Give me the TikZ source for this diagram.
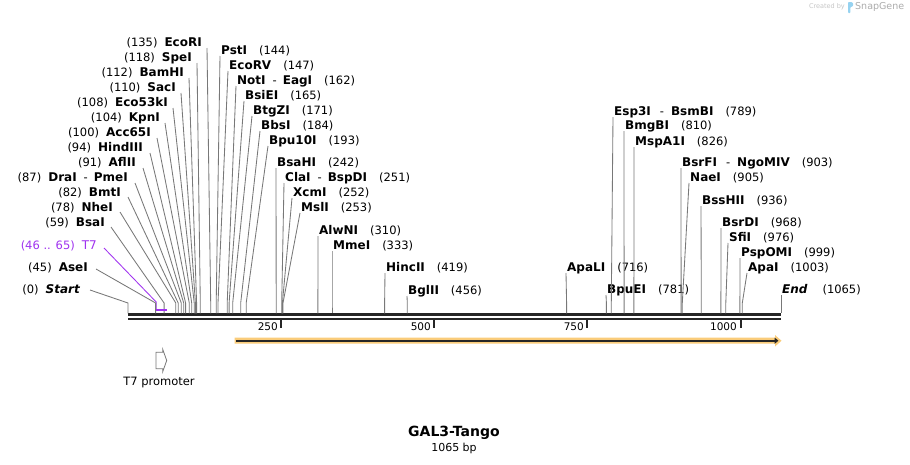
\documentclass[tikz,border=0pt]{standalone}
\usepackage{fontspec}
\setmainfont{DejaVu Sans}
\usepackage{xcolor}
\usepackage{tikz}
\usetikzlibrary{arrows.meta,positioning}

\definecolor{cutgray}{RGB}{120,120,120}
\definecolor{seqdark}{RGB}{38,38,38}
\definecolor{t7purple}{RGB}{160,50,240}
\definecolor{featorange}{RGB}{250,204,122}
\definecolor{snapblue}{RGB}{150,210,240}

\newcommand{\enz}[1]{{\fontsize{12}{14}\selectfont\bfseries #1}}

\begin{document}
\begin{tikzpicture}[
    x=1pt, y=-1pt,
    lbl/.style={inner sep=0pt, text height=9pt, text depth=0pt, font=\fontsize{11.5}{13}\selectfont},
    lsite/.style={lbl, anchor=east},
    rsite/.style={lbl, anchor=west},
    cut/.style={draw=cutgray, line width=0.85pt},
    t7line/.style={draw=t7purple, line width=0.85pt},
    seqline/.style={draw=seqdark, line width=2.4pt},
    tickmark/.style={draw=seqdark, line width=2pt},
    ticklbl/.style={inner sep=0pt, anchor=east, font=\fontsize{10.5}{12}\selectfont},
    promo/.style={draw=cutgray, line width=0.8pt, fill=white}
]

% Canvas
\fill[white] (0,0) rectangle (910,464);
\useasboundingbox (0,0) rectangle (910,464);

% Watermark
\node[anchor=east, inner sep=0pt, text=gray!45, font=\fontsize{6.5}{8}\selectfont] (createdby) at (845,7) {Created by};
\fill[snapblue, rounded corners=0.8pt] (848,2) -- (852,2) -- (853.6,4.5) -- (852,7) -- (850.3,7) -- (850.3,13) -- (848,13) -- cycle;
\node[anchor=west, inner sep=0pt, text=gray!65, font=\fontsize{9.5}{11}\selectfont] (snapgene) at (855,7) {SnapGene};

% Sequence
\coordinate (seqL) at (128,314.6);
\coordinate (seqR) at (781,314.6);
\coordinate (seqLb) at (128,318.9);
\coordinate (seqRb) at (781,318.9);
\draw[seqline] (seqL) -- (seqR);
\draw[seqline] (seqLb) -- (seqRb);

% Ruler
\draw[tickmark] (281.1,320) -- (281.1,327.5);
\draw[tickmark] (434.3,320) -- (434.3,327.5);
\draw[tickmark] (587.4,320) -- (587.4,327.5);
\draw[tickmark] (740.5,320) -- (740.5,327.5);
\node[ticklbl] (t250) at (278,327) {250};
\node[ticklbl] (t500) at (431,327) {500};
\node[ticklbl] (t750) at (584,327) {750};
\node[ticklbl] (t1000) at (737,327) {1000};

% Left side sites
\node[lsite] (ecori)   at (202,42)  {(135)\hspace{7pt}\enz{EcoRI}};
\node[lsite] (spei)    at (192,57)  {(118)\hspace{7pt}\enz{SpeI}};
\node[lsite] (bamhi)   at (184,72)  {(112)\hspace{7pt}\enz{BamHI}};
\node[lsite] (saci)    at (176,87)  {(110)\hspace{7pt}\enz{SacI}};
\node[lsite] (eco53ki) at (168,102) {(108)\hspace{7pt}\enz{Eco53kI}};
\node[lsite] (kpni)    at (160,117) {(104)\hspace{7pt}\enz{KpnI}};
\node[lsite] (acc65i)  at (151,132) {(100)\hspace{7pt}\enz{Acc65I}};
\node[lsite] (hindiii) at (143,147) {(94)\hspace{7pt}\enz{HindIII}};
\node[lsite] (aflii)   at (136,162) {(91)\hspace{7pt}\enz{AflII}};
\node[lsite] (drai)    at (128,177) {(87)\hspace{7pt}\enz{DraI}\hspace{7pt}-\hspace{6pt}\enz{PmeI}};
\node[lsite] (bmti)    at (121,192) {(82)\hspace{7pt}\enz{BmtI}};
\node[lsite] (nhei)    at (113,207) {(78)\hspace{7pt}\enz{NheI}};
\node[lsite] (bsai)    at (105,222) {(59)\hspace{7pt}\enz{BsaI}};
\node[lsite, text=t7purple] (t7) at (97,245) {(46 .. 65)\hspace{7pt}{\fontsize{12}{14}\selectfont T7}};
\node[lsite] (asei)    at (88,267)  {(45)\hspace{7pt}\enz{AseI}};
\node[lsite] (startsite) at (80,289) {(0)\hspace{7pt}\enz{\itshape Start}};

% Right side sites
\node[rsite] (psti)   at (221,50)  {\enz{PstI}\hspace{12pt}(144)};
\node[rsite] (ecorv)  at (229,65)  {\enz{EcoRV}\hspace{12pt}(147)};
\node[rsite] (noti)   at (237,80)  {\enz{NotI}\hspace{7pt}-\hspace{6pt}\enz{EagI}\hspace{12pt}(162)};
\node[rsite] (bsiei)  at (245,95)  {\enz{BsiEI}\hspace{12pt}(165)};
\node[rsite] (btgzi)  at (253,110) {\enz{BtgZI}\hspace{12pt}(171)};
\node[rsite] (bbsi)   at (261,125) {\enz{BbsI}\hspace{12pt}(184)};
\node[rsite] (bpu10i) at (269,140) {\enz{Bpu10I}\hspace{12pt}(193)};
\node[rsite] (bsahi)  at (277,162) {\enz{BsaHI}\hspace{12pt}(242)};
\node[rsite] (clai)   at (285,177) {\enz{ClaI}\hspace{7pt}-\hspace{6pt}\enz{BspDI}\hspace{12pt}(251)};
\node[rsite] (xcmi)   at (293,192) {\enz{XcmI}\hspace{12pt}(252)};
\node[rsite] (msli)   at (301,207) {\enz{MslI}\hspace{12pt}(253)};
\node[rsite] (alwni)  at (319,230) {\enz{AlwNI}\hspace{12pt}(310)};
\node[rsite] (mmei)   at (333,245) {\enz{MmeI}\hspace{12pt}(333)};
\node[rsite] (hincii) at (386,267) {\enz{HincII}\hspace{12pt}(419)};
\node[rsite] (bglii)  at (408,290) {\enz{BglII}\hspace{12pt}(456)};
\node[rsite] (apali)  at (567,267) {\enz{ApaLI}\hspace{12pt}(716)};
\node[rsite] (bpuei)  at (607,289) {\enz{BpuEI}\hspace{12pt}(781)};
\node[rsite] (esp3i)  at (614,111) {\enz{Esp3I}\hspace{9pt}-\hspace{7pt}\enz{BsmBI}\hspace{12pt}(789)};
\node[rsite] (bmgbi)  at (625,125) {\enz{BmgBI}\hspace{12pt}(810)};
\node[rsite] (mspa1i) at (635,141) {\enz{MspA1I}\hspace{12pt}(826)};
\node[rsite] (bsrfi)  at (682,162) {\enz{BsrFI}\hspace{9pt}-\hspace{7pt}\enz{NgoMIV}\hspace{12pt}(903)};
\node[rsite] (naei)   at (690,177) {\enz{NaeI}\hspace{12pt}(905)};
\node[rsite] (bsshii) at (702,200) {\enz{BssHII}\hspace{12pt}(936)};
\node[rsite] (bsrdi)  at (722,222) {\enz{BsrDI}\hspace{12pt}(968)};
\node[rsite] (sfii)   at (729,237) {\enz{SfiI}\hspace{12pt}(976)};
\node[rsite] (pspomi) at (741,252) {\enz{PspOMI}\hspace{12pt}(999)};
\node[rsite] (apai)   at (748,267) {\enz{ApaI}\hspace{12pt}(1003)};
\node[rsite] (endsite) at (782,289) {\enz{\itshape End}\hspace{15pt}(1065)};

% Left connectors
\draw[cut] ([shift={(5,6)}]ecori.east) -- (210.7,303) -- (210.7,313.3);
\draw[cut] ([shift={(5,6)}]spei.east) -- (200.3,303) -- (200.3,313.3);
\draw[cut] ([shift={(5,6)}]bamhi.east) -- (196.6,303) -- (196.6,313.3);
\draw[cut] ([shift={(5,6)}]saci.east) -- (195.4,303) -- (195.4,313.3);
\draw[cut] ([shift={(5,6)}]eco53ki.east) -- (194.2,303) -- (194.2,313.3);
\draw[cut] ([shift={(5,6)}]kpni.east) -- (191.7,303) -- (191.7,313.3);
\draw[cut] ([shift={(6,6)}]acc65i.east) -- (189.3,303) -- (189.3,313.3);
\draw[cut] ([shift={(7,6)}]hindiii.east) -- (185.6,303) -- (185.6,313.3);
\draw[cut] ([shift={(7,6)}]aflii.east) -- (183.7,303) -- (183.7,313.3);
\draw[cut] ([shift={(7,6)}]drai.east) -- (181.3,303) -- (181.3,313.3);
\draw[cut] ([shift={(7,5)}]bmti.east) -- (178.2,303) -- (178.2,313.3);
\draw[cut] ([shift={(7,5)}]nhei.east) -- (175.8,303) -- (175.8,313.3);
\draw[cut] ([shift={(6,5)}]bsai.east) -- (164.1,303) -- (164.1,313.3);
\draw[t7line] ([shift={(7,3)}]t7.east) -- (156.2,302) -- (156.2,310);
\draw[cut] ([shift={(8,2)}]asei.east) -- (155.6,303) -- (155.6,313.3);
\draw[cut] ([shift={(10,1)}]startsite.east) -- (128,303) -- (128,313.3);

% T7 feature
\draw[draw=t7purple, line width=2.2pt] (156.2,310) -- (166.7,310);

% Right connectors
\draw[cut] ([shift={(-1,6)}]psti.west) -- (216.2,303) -- (216.2,313.3);
\draw[cut] ([shift={(-1,6)}]ecorv.west) -- (218,303) -- (218,313.3);
\draw[cut] ([shift={(-1,6)}]noti.west) -- (227.2,303) -- (227.2,313.3);
\draw[cut] ([shift={(-1,6)}]bsiei.west) -- (229.1,303) -- (229.1,313.3);
\draw[cut] ([shift={(-1,6)}]btgzi.west) -- (232.7,303) -- (232.7,313.3);
\draw[cut] ([shift={(-1,6)}]bbsi.west) -- (240.7,303) -- (240.7,313.3);
\draw[cut] ([shift={(-1,6)}]bpu10i.west) -- (246.2,303) -- (246.2,313.3);
\draw[cut] ([shift={(-1,6)}]bsahi.west) -- (276.2,303) -- (276.2,313.3);
\draw[cut] ([shift={(-1,6)}]clai.west) -- (281.7,303) -- (281.7,313.3);
\draw[cut] ([shift={(-1,6)}]xcmi.west) -- (282.4,303) -- (282.4,313.3);
\draw[cut] ([shift={(-1,6)}]msli.west) -- (283,303) -- (283,313.3);
\draw[cut] ([shift={(-1,6)}]alwni.west) -- (317.9,303) -- (317.9,313.3);
\draw[cut] ([shift={(-1,6)}]mmei.west) -- (332,303) -- (332,313.3);
\draw[cut] ([shift={(-1,6)}]hincii.west) -- (384.6,303) -- (384.6,313.3);
\draw[cut] ([shift={(-1,6)}]bglii.west) -- (407.3,303) -- (407.3,313.3);
\draw[cut] ([shift={(-1,6)}]apali.west) -- (566.6,303) -- (566.6,313.3);
\draw[cut] ([shift={(-1,6)}]bpuei.west) -- (606.4,303) -- (606.4,313.3);
\draw[cut] ([shift={(-1,6)}]esp3i.west) -- (611.3,303) -- (611.3,313.3);
\draw[cut] ([shift={(-1,6)}]bmgbi.west) -- (624.1,303) -- (624.1,313.3);
\draw[cut] ([shift={(-1,6)}]mspa1i.west) -- (633.9,303) -- (633.9,313.3);
\draw[cut] ([shift={(-1,6)}]bsrfi.west) -- (681.1,303) -- (681.1,313.3);
\draw[cut] ([shift={(-1,6)}]naei.west) -- (682.3,303) -- (682.3,313.3);
\draw[cut] ([shift={(-1,6)}]bsshii.west) -- (701.3,303) -- (701.3,313.3);
\draw[cut] ([shift={(-1,6)}]bsrdi.west) -- (720.9,303) -- (720.9,313.3);
\draw[cut] ([shift={(-1,6)}]sfii.west) -- (725.8,303) -- (725.8,313.3);
\draw[cut] ([shift={(-1,6)}]pspomi.west) -- (739.9,303) -- (739.9,313.3);
\draw[cut] ([shift={(-1,6)}]apai.west) -- (742.3,303) -- (742.3,313.3);
\draw[cut] ([shift={(-1,6)}]endsite.west) -- (781,303) -- (781,313.3);

% Orange feature arrow
\fill[featorange] (234.5,337.7) -- (775,337.7) -- (775,335) -- (781.5,340.7) -- (775,346.5) -- (775,343.7) -- (234.5,343.7) -- cycle;
\draw[draw=seqdark, line width=2pt, -{Triangle[length=4pt,width=6pt]}] (236,340.7) -- (778.5,340.7);

% T7 promoter
\draw[promo] (156,352.3) -- (162.8,352.3) -- (162.8,349.5) -- (166.7,360.5) -- (162.8,371.5) -- (162.8,368.7) -- (156,368.7) -- cycle;
\node[lbl, text depth=2pt] (t7prom) at (159,382) {T7 promoter};

% Title
\node[font=\fontsize{14}{16}\selectfont\bfseries, inner sep=0pt] (title) at (454,433) {GAL3-Tango};
\node[font=\fontsize{11}{13}\selectfont, inner sep=0pt] (bplen) at (454,448) {1065 bp};

\end{tikzpicture}
\end{document}
